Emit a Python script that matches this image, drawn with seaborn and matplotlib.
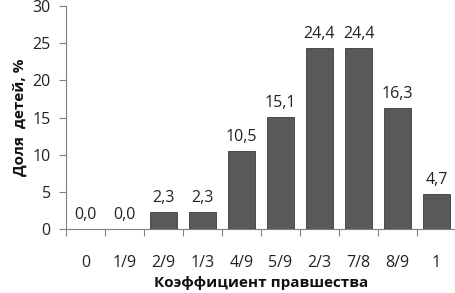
import matplotlib
matplotlib.use("Agg")
import matplotlib.pyplot as plt
import seaborn as sns
import pandas as pd
import numpy as np

categories = ["0", "1/9", "2/9", "1/3", "4/9", "5/9", "2/3", "7/8", "8/9", "1"]
values = [0.0, 0.0, 2.3, 2.3, 10.5, 15.1, 24.4, 24.4, 16.3, 4.7]
labels = ["0,0", "0,0", "2,3", "2,3", "10,5", "15,1", "24,4", "24,4", "16,3", "4,7"]

sns.set_style("white")
plt.rcParams['font.family'] = ['Open Sans', 'DejaVu Sans']

df = pd.DataFrame({"cat": categories, "val": values})

fig = plt.figure(figsize=(4.55, 2.93), dpi=100)
ax = fig.add_axes([66/455, 1-229/293, 390/455, 223/293])

sns.barplot(data=df, x="cat", y="val", order=categories, color="#595959",
            saturation=1, width=0.69, edgecolor="#3a3a3a", linewidth=0.6, ax=ax)

for i, (v, t) in enumerate(zip(values, labels)):
    ax.text(i, v + 0.8, t, ha="center", va="bottom", fontsize=11.5, color="#222222")

ax.set_xlim(-0.5, len(categories) - 0.5)
ax.set_ylim(0, 30)
ax.set_yticks(range(0, 31, 5))
ax.tick_params(axis="y", labelsize=11.5, length=5, width=0.8, color="#808080",
               direction="out", pad=6, left=True, labelcolor="#222222")
ax.set_xticks(range(len(categories)))
ax.set_xticklabels(categories)
ax.set_xticks(np.arange(-0.5, len(categories), 1), minor=True)
ax.tick_params(axis="x", which="major", length=0, labelsize=11.5, pad=19, labelcolor="#222222")
ax.tick_params(axis="x", which="minor", length=5, width=0.8, color="#808080", direction="out", bottom=True)

for s in ["top", "right"]:
    ax.spines[s].set_visible(False)
for s in ["left", "bottom"]:
    ax.spines[s].set_color("#808080")
    ax.spines[s].set_linewidth(0.8)

ax.set_xlabel("")
ax.set_ylabel("")
fig.text(261/455, 1-283/293, "Коэффициент правшества", fontsize=11, fontweight="bold",
         color="#111111", ha="center", va="center")
fig.text(20/455, 1-117/293, "Доля  детей, %", fontsize=11, fontweight="bold",
         color="#111111", ha="center", va="center", rotation=90)

fig.savefig("out.png", dpi=100)
